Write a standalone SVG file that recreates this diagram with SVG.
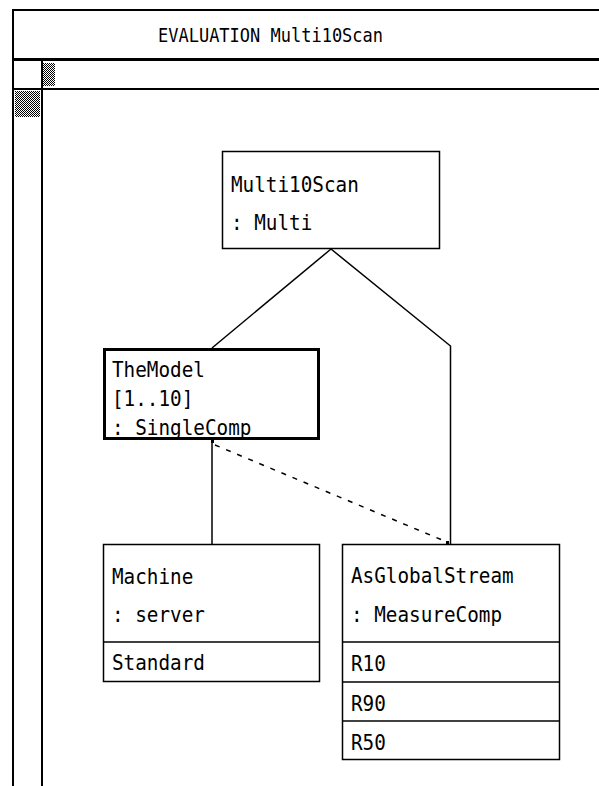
<svg xmlns="http://www.w3.org/2000/svg" width="599" height="786" viewBox="0 0 599 786">
<defs>
<pattern id="chk" width="2" height="2" patternUnits="userSpaceOnUse">
<rect width="2" height="2" fill="#fff"/>
<rect width="1" height="1" fill="#000"/>
<rect x="1" y="1" width="1" height="1" fill="#000"/>
</pattern>
</defs>
<style>
.t{font-family:"DejaVu Sans Mono","Liberation Mono",monospace;font-size:19.3px;fill:#000}
.title{font-family:"DejaVu Sans Mono","Liberation Mono",monospace;font-size:17px;fill:#000}
.box{fill:#fff;stroke:#000;stroke-width:1.5}
.bold{fill:#fff;stroke:#000;stroke-width:3}
.ln{stroke:#000;stroke-width:1.5;fill:none}
.frame{stroke:#000;fill:none}
</style>
<rect width="599" height="786" fill="#fff"/>
<g id="frame">
<line class="frame" x1="13" y1="10" x2="599" y2="10" stroke-width="2"/>
<line class="frame" x1="13" y1="9" x2="13" y2="786" stroke-width="2"/>
<line class="frame" x1="13" y1="59.5" x2="599" y2="59.5" stroke-width="3"/>
<line class="frame" x1="13" y1="89" x2="599" y2="89" stroke-width="2"/>
<line class="frame" x1="42" y1="60" x2="42" y2="786" stroke-width="2"/>
<rect x="43" y="63" width="12" height="23" fill="url(#chk)"/>
<rect x="15" y="91" width="25" height="26" fill="url(#chk)"/>
<text class="title" transform="translate(158,42) scale(1,1.1)">EVALUATION Multi10Scan</text>
</g>
<g id="connectors">
<polyline class="ln" points="212,348 331,249" stroke-width="2.5"/>
<polyline class="ln" points="331,249 450.5,346 450.5,544"/>
<line class="ln" x1="212" y1="440" x2="212" y2="544"/>
<line class="ln" x1="215" y1="445" x2="447" y2="542" stroke-dasharray="5 7"/>
<rect x="211" y="440" width="3" height="3" fill="#000"/>
<rect x="446" y="541" width="3" height="3" fill="#000"/>
</g>
<g id="Multi10Scan">
<rect class="box" x="222.5" y="151.5" width="217" height="97"/>
<text class="t" transform="translate(231,192) scale(1,1.12)">Multi10Scan</text>
<text class="t" transform="translate(231,230) scale(1,1.12)">: Multi</text>
</g>
<g id="TheModel">
<rect class="bold" x="104.5" y="349.5" width="214" height="89"/>
<text class="t" transform="translate(112,377) scale(1,1.12)">TheModel</text>
<text class="t" transform="translate(112,406) scale(1,1.12)">[1..10]</text>
<text class="t" transform="translate(112,435) scale(1,1.12)">: SingleComp</text>
</g>
<g id="Machine">
<rect class="box" x="103.5" y="544.5" width="216" height="137"/>
<line class="ln" x1="103.5" y1="642" x2="319.5" y2="642"/>
<text class="t" transform="translate(112,584) scale(1,1.12)">Machine</text>
<text class="t" transform="translate(112,622) scale(1,1.12)">: server</text>
<text class="t" transform="translate(112,670) scale(1,1.12)">Standard</text>
</g>
<g id="AsGlobalStream">
<rect class="box" x="342.5" y="544.5" width="217" height="215"/>
<line class="ln" x1="342.5" y1="642" x2="559.5" y2="642"/>
<line class="ln" x1="342.5" y1="682" x2="559.5" y2="682"/>
<line class="ln" x1="342.5" y1="721" x2="559.5" y2="721"/>
<text class="t" transform="translate(351,583) scale(1,1.12)">AsGlobalStream</text>
<text class="t" transform="translate(351,622) scale(1,1.12)">: MeasureComp</text>
<text class="t" transform="translate(351,671) scale(1,1.12)">R10</text>
<text class="t" transform="translate(351,711) scale(1,1.12)">R90</text>
<text class="t" transform="translate(351,750) scale(1,1.12)">R50</text>
</g>
</svg>
